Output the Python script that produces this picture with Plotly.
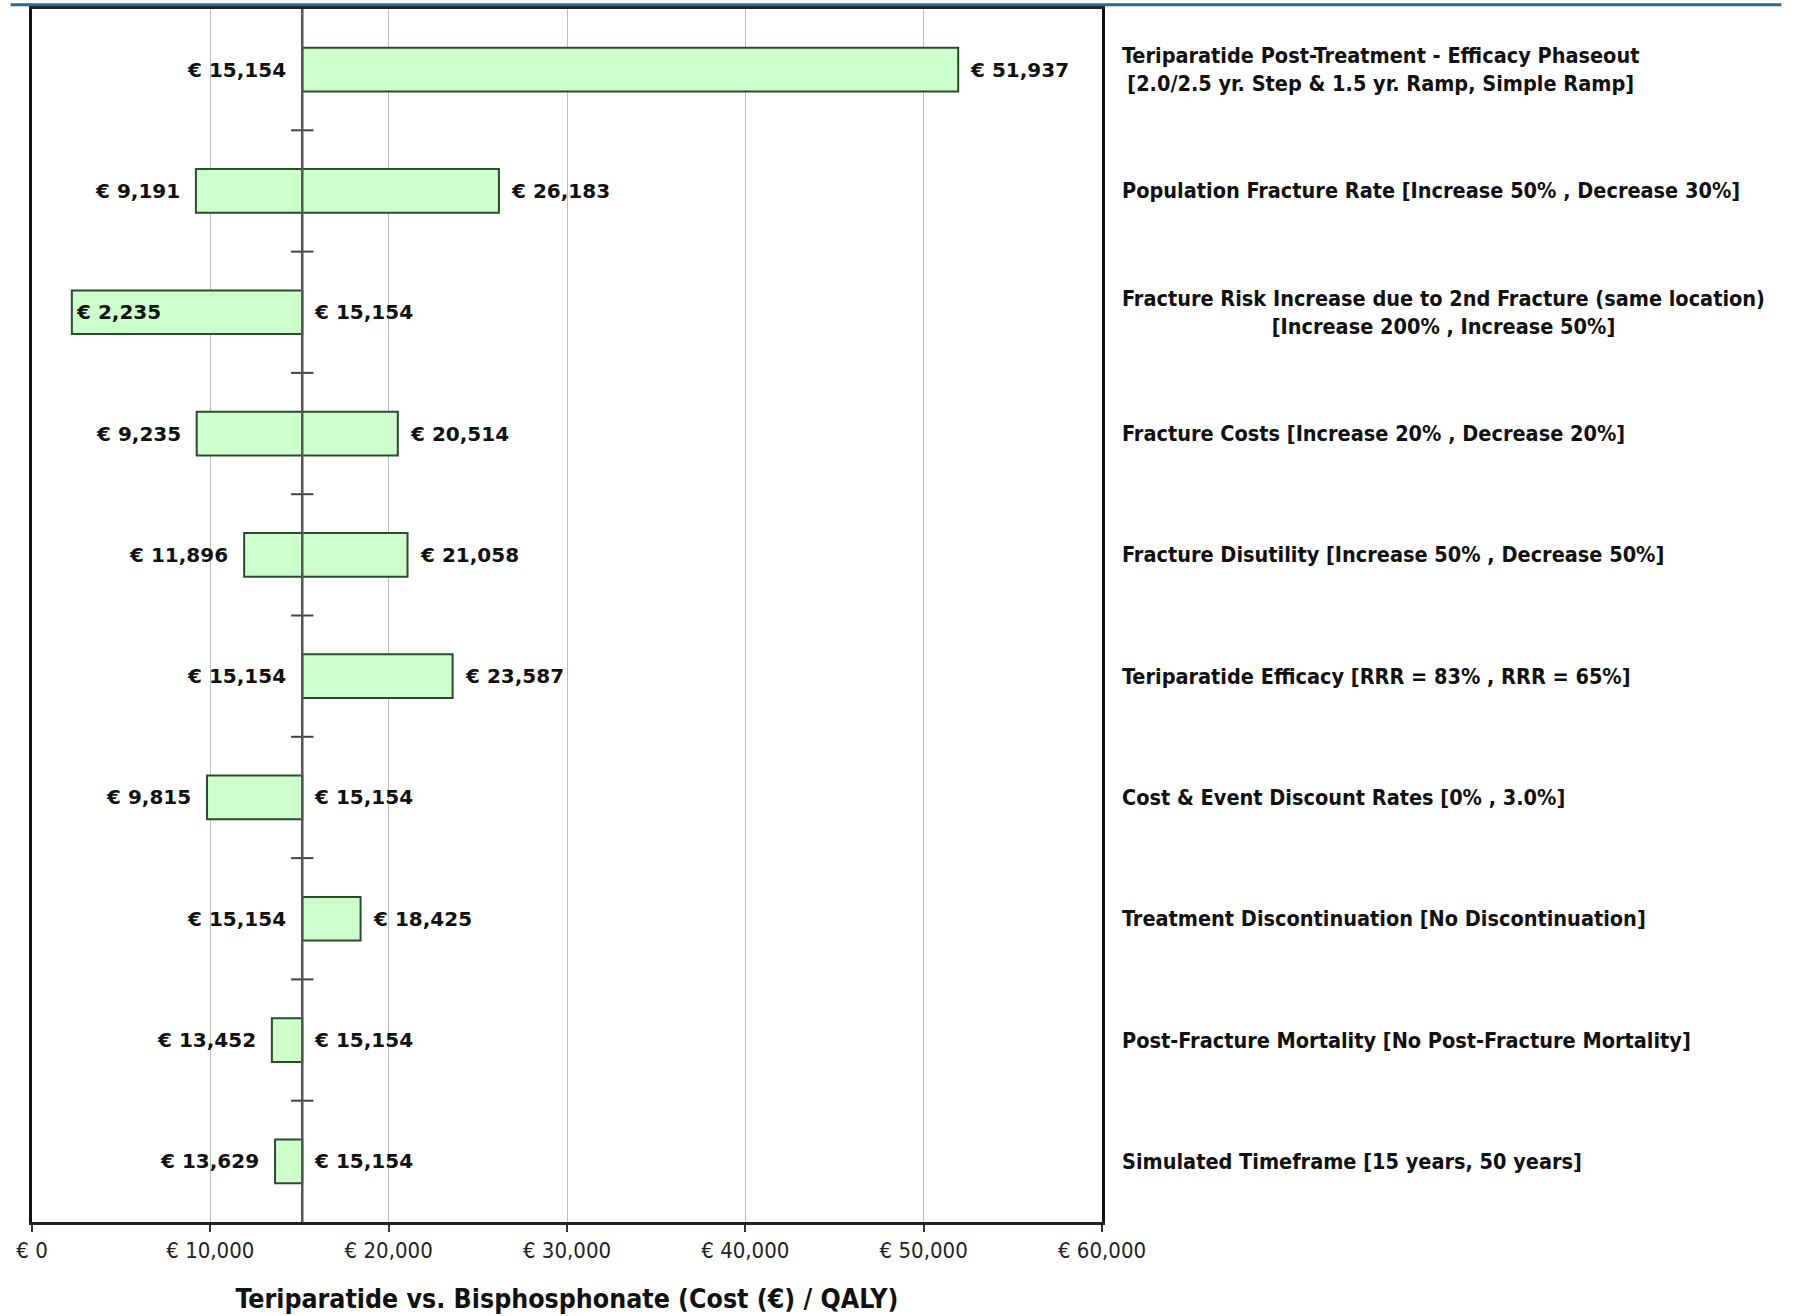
import plotly.graph_objects as go

categories = [
    "Teriparatide Post-Treatment - Efficacy Phaseout<br>[2.0/2.5 yr. Step & 1.5 yr. Ramp, Simple Ramp]",
    "Population Fracture Rate [Increase 50% , Decrease 30%]",
    "Fracture Risk Increase due to 2nd Fracture (same location)<br>[Increase 200% , Increase 50%]",
    "Fracture Costs [Increase 20% , Decrease 20%]",
    "Fracture Disutility [Increase 50% , Decrease 50%]",
    "Teriparatide Efficacy [RRR = 83% , RRR = 65%]",
    "Cost & Event Discount Rates [0% , 3.0%]",
    "Treatment Discontinuation [No Discontinuation]",
    "Post-Fracture Mortality [No Post-Fracture Mortality]",
    "Simulated Timeframe [15 years, 50 years]",
]
low_values = [15154, 9191, 2235, 9235, 11896, 15154, 9815, 15154, 13452, 13629]
high_values = [51937, 26183, 15154, 20514, 21058, 23587, 15154, 18425, 15154, 15154]
base_value = 15154

x_tick_values = [0, 10000, 20000, 30000, 40000, 50000, 60000]
x_tick_labels = ["€ 0", "€ 10,000", "€ 20,000", "€ 30,000", "€ 40,000", "€ 50,000", "€ 60,000"]
x_title = "Teriparatide vs. Bisphosphonate (Cost (€) / QALY)"

n = len(categories)
ypos = list(range(n))

COND = "DejaVu Sans Condensed, Liberation Sans Narrow, DejaVu Sans"
VAL_FONT = dict(family="DejaVu Sans", size=20, color="#111", weight="bold")
LAB_FONT = dict(family=COND, size=21.5, color="#111", weight="bold")
TICK_FONT = dict(family=COND, size=22, color="#222")

fig = go.Figure()

fig.add_trace(go.Bar(
    orientation="h",
    y=ypos,
    x=[h - l for l, h in zip(low_values, high_values)],
    base=low_values,
    width=0.36,
    marker=dict(color="#ccffcc", line=dict(color="#2e4a2e", width=2)),
    hoverinfo="skip",
))

annotations = []
x_min = x_tick_values[0]
x_max = x_tick_values[-1]
for i, (lo, hi) in enumerate(zip(low_values, high_values)):
    inside = (lo - x_min) < 0.1 * (x_max - x_min)
    annotations.append(dict(
        x=lo, y=i, xref="x", yref="y", text=f"€ {lo:,}", showarrow=False,
        xanchor="left" if inside else "right", xshift=2 if inside else -14,
        font=VAL_FONT,
    ))
    annotations.append(dict(
        x=hi, y=i, xref="x", yref="y", text=f"€ {hi:,}", showarrow=False,
        xanchor="left", xshift=10, font=VAL_FONT,
    ))
    annotations.append(dict(
        x=1, y=i, xref="paper", yref="y", text=categories[i], showarrow=False,
        xanchor="left", xshift=18, align="center", font=LAB_FONT,
    ))

fig.update_layout(
    width=1796, height=1316,
    margin=dict(l=32, r=694, t=6, b=94),
    paper_bgcolor="white", plot_bgcolor="white",
    showlegend=False,
    annotations=annotations,
    xaxis=dict(
        range=[x_min, x_max],
        tickvals=x_tick_values, ticktext=x_tick_labels,
        tickfont=TICK_FONT,
        showgrid=True, gridcolor="#bdbdbd", gridwidth=1,
        zeroline=False,
        showline=True, linecolor="#222", linewidth=3, mirror=True,
        ticks="outside", ticklen=7, tickwidth=2, tickcolor="#333",
        title=dict(text=x_title, standoff=28,
                   font=dict(family=COND, size=26.5, color="#111", weight="bold")),
    ),
    yaxis=dict(
        range=[n - 0.5, -0.5],
        showticklabels=False, showgrid=False, zeroline=False,
        showline=True, linecolor="#111", linewidth=3, mirror=True,
        ticks="",
    ),
)

# top frame line of the page
fig.add_shape(type="line", xref="paper", yref="paper",
              x0=-0.02, x1=1.635, y0=1.0035, y1=1.0035,
              line=dict(color="#2b6a8a", width=3))

# reference (base case) line
fig.add_vline(x=base_value, line=dict(color="#555", width=2.5), layer="above")

# small separators on the reference line between categories
fig.add_trace(go.Scatter(
    x=[base_value] * (n - 1),
    y=[i + 0.5 for i in range(n - 1)],
    mode="markers",
    marker=dict(symbol="line-ew-open", size=16, color="#444", line=dict(color="#444", width=2)),
    hoverinfo="skip",
))

fig.write_html("out.html")
